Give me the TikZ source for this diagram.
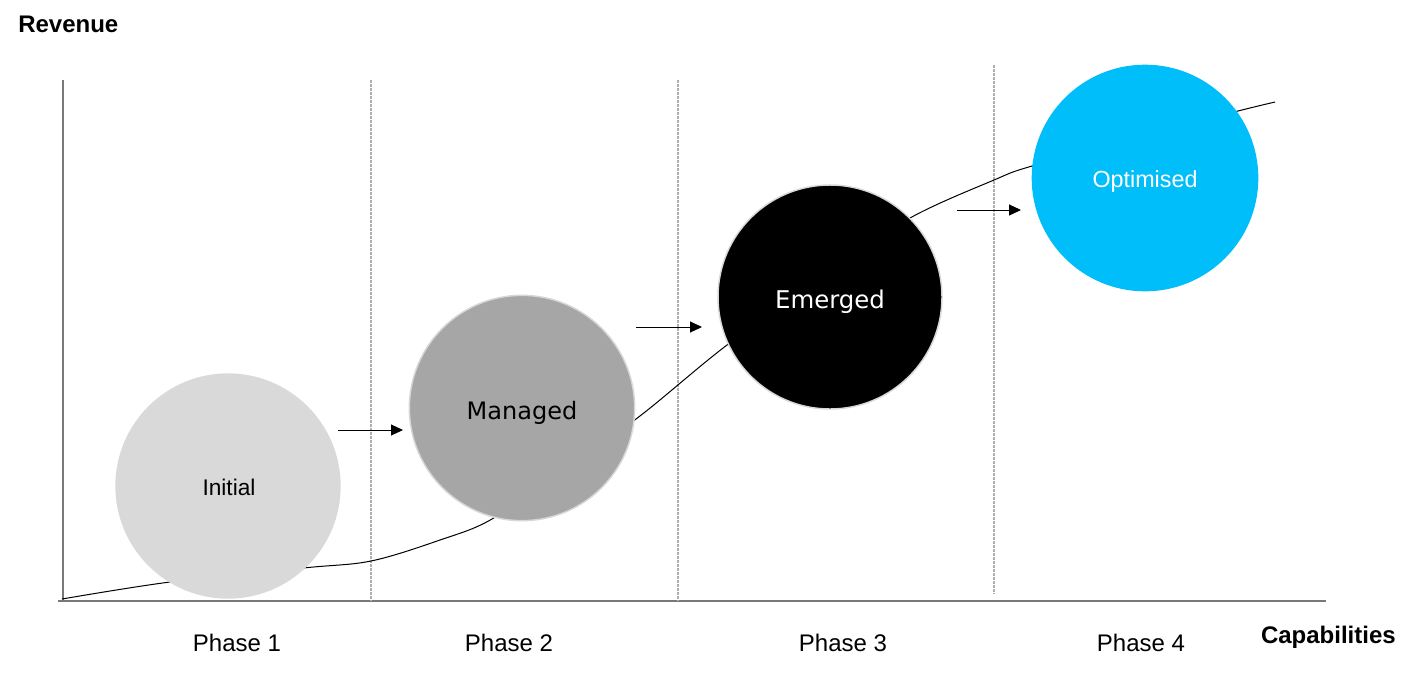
\documentclass[tikz,border=0pt]{standalone}
\usepackage{fontspec}
\setmainfont{Liberation Sans}
\newfontfamily\verd{DejaVu Sans}
\usetikzlibrary{arrows.meta}
\definecolor{cInit}{RGB}{217,217,217}
\definecolor{cMan}{RGB}{166,166,166}
\definecolor{cOpt}{RGB}{0,190,250}
\definecolor{cAxis}{RGB}{120,120,120}
\definecolor{cDiv}{RGB}{175,175,175}
\definecolor{cRim}{RGB}{215,215,215}
\tikzset{
  phasecircle/.style={circle, minimum size=169pt, inner sep=0pt},
  axisline/.style={draw=cAxis, line width=1pt},
  divider/.style={draw=cDiv, line width=0.9pt, dash pattern=on 2.25pt off 0.75pt},
  steparrow/.style={draw=black, line width=0.75pt, -{Triangle[length=9pt, width=8.25pt]}},
  curveline/.style={draw=black, line width=0.75pt},
  lbl/.style={font=\fontsize{18}{20}\selectfont, inner sep=0pt},
  axislbl/.style={font=\fontsize{18}{20}\selectfont\bfseries, inner sep=0pt},
  circtxt/.style={inner sep=0pt}
}
\begin{document}
\begin{tikzpicture}[x=0.75pt, y=-0.75pt]
\useasboundingbox (0,0) rectangle (1412,672);
% axes
\coordinate (ytop) at (63,80);
\coordinate (origin) at (63,601);
\coordinate (xstart) at (58,601);
\coordinate (xend) at (1326,601);
\draw[axisline] (ytop) -- (origin);
\draw[axisline] (xstart) -- (xend);
% dividers
\coordinate (d1t) at (371,80); \coordinate (d1b) at (371,601);
\coordinate (d2t) at (678,80); \coordinate (d2b) at (678,601);
\coordinate (d3t) at (994,65); \coordinate (d3b) at (994,594);
\draw[divider] (d1t) -- (d1b);
\draw[divider] (d2t) -- (d2b);
\draw[divider] (d3t) -- (d3b);
% curve
\draw[curveline] plot[smooth, tension=0.55] coordinates {
 (62,599) (170,582) (303,568) (371,561) (440,540) (492,519) (560,470)
 (636,419) (727,345) (830,272) (910,218) (994,180) (1032,166) (1145,135) (1238,111) (1275,102)};
% circles
\node[phasecircle, fill=cInit] (initial) at (228,486) {};
\node[phasecircle, fill=cMan, draw=cRim, line width=1.1pt] (managed) at (522,408) {};
\node[phasecircle, fill=black, draw=cRim, line width=1.1pt, minimum size=168pt] (emerged) at (830,297) {};
\node[phasecircle, fill=cOpt, minimum size=170pt] (optimised) at (1145,178) {};
\node[circtxt, font=\fontsize{17}{20}\selectfont] (initialtxt) at (229,487.5) {Initial};
\node[circtxt, font=\verd\fontsize{18}{20}\selectfont] (managedtxt) at (522,413) {Managed};
\node[circtxt, font=\verd\fontsize{18.3}{20}\selectfont, text=white] (emergedtxt) at (830,302) {Emerged};
\node[circtxt, font=\fontsize{17.5}{20}\selectfont, text=white] (optimisedtxt) at (1145,181) {Optimised};
% arrows
\coordinate (a1s) at (338,430); \coordinate (a1e) at (403,430);
\coordinate (a2s) at (636,327); \coordinate (a2e) at (702,327);
\coordinate (a3s) at (957,210); \coordinate (a3e) at (1021,210);
\draw[steparrow] (a1s) -- (a1e);
\draw[steparrow] (a2s) -- (a2e);
\draw[steparrow] (a3s) -- (a3e);
% labels
\node[axislbl, anchor=west] (revenue) at (18,24) {Revenue};
\node[axislbl, anchor=east] (capab) at (1396,637) {Capabilities};
\node[lbl] (p1) at (237,643) {Phase 1};
\node[lbl] (p2) at (509,643) {Phase 2};
\node[lbl] (p3) at (843,643) {Phase 3};
\node[lbl] (p4) at (1141,643) {Phase 4};
\end{tikzpicture}
\end{document}
